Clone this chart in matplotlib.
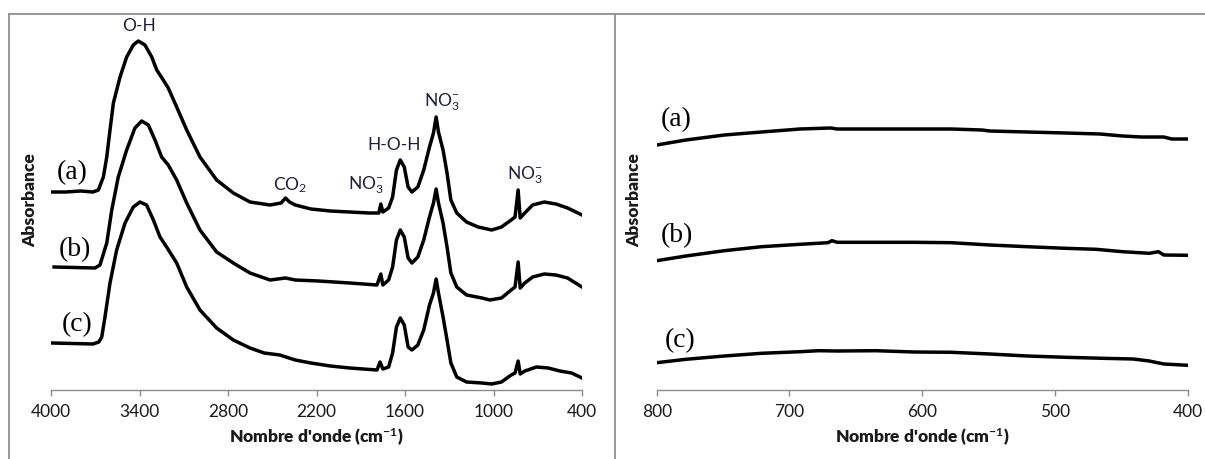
"""
FTIR spectra (a), (b), (c): full range 4000-400 and zoom 800-400 cm-1.
"""

import matplotlib
matplotlib.use("Agg")
import matplotlib.pyplot as plt
from matplotlib.lines import Line2D

# --- left panel: full spectra (wavenumber, absorbance in arbitrary units)
WN_A = [3992, 3900, 3800, 3715, 3679, 3645, 3622, 3600, 3577, 3532, 3487, 3442, 3408, 3363,
        3317, 3283, 3239, 3205, 3148, 3080, 2990, 2877, 2764, 2651, 2515, 2440, 2410,
        2383, 2344, 2238, 2106, 1975, 1843, 1777, 1764, 1750, 1711, 1684, 1658, 1632, 1605,
        1579, 1553, 1513, 1473, 1434, 1407, 1389, 1373, 1342, 1315, 1289, 1249, 1183, 1104,
        1012, 946, 880, 854, 833, 819, 788, 735, 656, 577, 498, 400]
ABS_A = [1.96, 1.96, 1.97, 1.96, 1.98, 2.11, 2.31, 2.58, 2.85, 3.11, 3.31, 3.43, 3.47, 3.43,
         3.31, 3.18, 3.08, 3.00, 2.81, 2.58, 2.31, 2.08, 1.95, 1.86, 1.83, 1.85, 1.90,
         1.86, 1.83, 1.79, 1.77, 1.76, 1.75, 1.75, 1.84, 1.76, 1.80, 1.91, 2.18, 2.28, 2.21,
         2.01, 1.96, 2.01, 2.18, 2.41, 2.55, 2.71, 2.56, 2.38, 2.15, 1.88, 1.75, 1.66, 1.61,
         1.58, 1.61, 1.68, 1.71, 1.98, 1.70, 1.75, 1.83, 1.86, 1.84, 1.80, 1.73]

WN_B = [3979, 3702, 3668, 3622, 3588, 3544, 3487, 3431, 3385, 3340, 3295, 3250, 3205, 3148,
        3080, 2990, 2877, 2764, 2651, 2515, 2410, 2344, 2186, 1975, 1790,
        1764, 1750, 1711, 1684, 1658, 1632, 1605, 1579, 1553, 1513, 1473, 1434, 1407, 1389,
        1373, 1342, 1315, 1289, 1249, 1183, 1078, 1025, 946, 880, 854, 833, 819, 788, 735,
        656, 577, 498, 400]
ABS_B = [1.21, 1.20, 1.23, 1.45, 1.78, 2.11, 2.38, 2.60, 2.67, 2.63, 2.48, 2.31, 2.23, 2.08,
         1.85, 1.58, 1.36, 1.25, 1.15, 1.08, 1.10, 1.08, 1.07, 1.05, 1.03,
         1.14, 1.03, 1.08, 1.21, 1.48, 1.58, 1.51, 1.30, 1.25, 1.31, 1.48, 1.71, 1.85, 1.99,
         1.85, 1.65, 1.41, 1.15, 1.01, 0.93, 0.90, 0.88, 0.90, 0.98, 1.01, 1.26, 1.00, 1.05,
         1.11, 1.14, 1.13, 1.10, 1.01]

WN_C = [3992, 3715, 3676, 3656, 3634, 3600, 3555, 3498, 3442, 3397, 3352, 3306, 3261, 3216,
        3148, 3080, 2990, 2877, 2764, 2651, 2555, 2449, 2344, 2238, 2106, 1975, 1790,
        1769, 1750, 1711, 1684, 1658, 1632, 1605, 1579, 1553, 1513, 1473, 1434, 1407, 1389,
        1373, 1342, 1315, 1289, 1249, 1183, 1078, 1012, 946, 880, 854, 833, 819, 788, 709,
        629, 550, 471, 400]
ABS_C = [0.45, 0.44, 0.46, 0.51, 0.71, 1.05, 1.38, 1.65, 1.81, 1.86, 1.83, 1.68, 1.51, 1.41,
         1.25, 1.01, 0.78, 0.60, 0.48, 0.40, 0.35, 0.33, 0.28, 0.25, 0.22, 0.20, 0.18,
         0.26, 0.19, 0.21, 0.35, 0.61, 0.70, 0.63, 0.41, 0.38, 0.43, 0.58, 0.83, 0.95, 1.09,
         0.95, 0.71, 0.48, 0.25, 0.11, 0.06, 0.05, 0.04, 0.06, 0.13, 0.15, 0.27, 0.14, 0.17,
         0.21, 0.20, 0.17, 0.15, 0.10]

# --- right panel: 800-400 cm-1
WN_RA = [800, 778, 749, 721, 692, 669, 664, 635, 606, 578, 555, 549, 521, 492, 466, 449,
         435, 418, 412, 400]
ABS_RA = [2.46, 2.51, 2.56, 2.59, 2.62, 2.63, 2.62, 2.62, 2.62, 2.62, 2.61, 2.60, 2.59,
          2.58, 2.57, 2.55, 2.54, 2.54, 2.52, 2.52]

WN_RB = [800, 778, 749, 721, 692, 671, 668, 664, 635, 606, 578, 549, 521, 492, 469, 449,
         429, 422, 418, 400]
ABS_RB = [1.303, 1.35, 1.403, 1.443, 1.467, 1.483, 1.503, 1.487, 1.487, 1.487, 1.483, 1.46,
          1.443, 1.427, 1.417, 1.393, 1.377, 1.393, 1.36, 1.357]

WN_RC = [800, 778, 749, 721, 692, 678, 664, 635, 606, 578, 549, 521, 492, 464, 441, 429,
         418, 400]
ABS_RC = [0.283, 0.317, 0.35, 0.377, 0.393, 0.403, 0.40, 0.403, 0.39, 0.387, 0.37, 0.35,
          0.337, 0.327, 0.32, 0.30, 0.27, 0.257]

LEFT_TICKS = [4000, 3400, 2800, 2200, 1600, 1000, 400]
RIGHT_TICKS = [800, 700, 600, 500, 400]

SAMPLE_LABELS = ["(a)", "(b)", "(c)"]
BAND_LABELS = ["O-H", "CO$_2$", "NO$_3^{-}$", "H-O-H", "NO$_3^{-}$", "NO$_3^{-}$"]
BAND_POS = [(3401, 3.62), (2380, 2.03), (1866, 2.03), (1676, 2.43), (1352, 2.86), (790, 2.13)]
LEFT_LABEL_POS = [(3858, 2.15), (3837, 1.38), (3824, 0.63)]
RIGHT_LABEL_POS = [(785, 2.715), (785, 1.55), (782, 0.50)]

plt.rcParams["font.family"] = ["Lato", "DejaVu Sans"]
plt.rcParams["mathtext.fontset"] = "custom"
plt.rcParams["mathtext.rm"] = "Lato"
plt.rcParams["mathtext.bf"] = "Lato:bold"
plt.rcParams["mathtext.it"] = "Lato:italic"

GRAY = "#8c8c8c"
TXT = "#1a1a1a"


def style_axis(ax, ticks, xlim, ylim):
    ax.set_xlim(*xlim)
    ax.set_ylim(*ylim)
    ax.set_xticks(ticks)
    ax.set_xticklabels([str(t) for t in ticks])
    ax.set_yticks([])
    for s in ("top", "right", "left"):
        ax.spines[s].set_visible(False)
    ax.spines["bottom"].set_color(GRAY)
    ax.spines["bottom"].set_linewidth(1.0)
    ax.tick_params(axis="x", direction="out", length=4, width=1, color=GRAY,
                   labelsize=12.5, labelcolor=TXT, pad=6)
    ax.set_xlabel("Nombre d'onde (cm$^{\\mathbf{-1}}$)", fontsize=12.5,
                  fontweight="heavy", color=TXT)
    ax.xaxis.set_label_coords(0.5, -0.1)
    ax.xaxis.label.set_va("top")
    ax.set_ylabel("Absorbance", fontsize=12.5, fontweight="heavy", color=TXT)
    ax.patch.set_visible(False)


fig = plt.figure(figsize=(12.05, 4.59), dpi=100)
W, H = 1205.0, 459.0

ax1 = fig.add_axes([51 / W, (H - 390) / H, 531 / W, 362 / H])
ax2 = fig.add_axes([656.7 / W, (H - 390) / H, 531 / W, 362 / H])

lw = 2.5
for wn, ab in ((WN_A, ABS_A), (WN_B, ABS_B), (WN_C, ABS_C)):
    ax1.plot(wn, ab, color="black", lw=lw, solid_joinstyle="round")
for wn, ab in ((WN_RA, ABS_RA), (WN_RB, ABS_RB), (WN_RC, ABS_RC)):
    ax2.plot(wn, ab, color="black", lw=lw, solid_joinstyle="round")

style_axis(ax1, LEFT_TICKS, (4000, 400), (-0.02, 3.60))
style_axis(ax2, RIGHT_TICKS, (800, 400), (0.01, 3.63))
ax1.yaxis.set_label_coords(-0.024, 0.525)
ax2.yaxis.set_label_coords(-0.028, 0.525)

for lab, (x, y) in zip(SAMPLE_LABELS, LEFT_LABEL_POS):
    ax1.text(x, y, lab, family="Liberation Serif", fontsize=20, ha="center", va="center")
for lab, (x, y) in zip(SAMPLE_LABELS, RIGHT_LABEL_POS):
    ax2.text(x, y, lab, family="Liberation Serif", fontsize=20, ha="center", va="center")
for lab, (x, y) in zip(BAND_LABELS, BAND_POS):
    ax1.text(x, y, lab, fontsize=12.5, color="#1e1e3c", ha="center", va="center", clip_on=False)

# picture frame lines (top, left, separator)
fc = "#8f8f8f"
fig.add_artist(Line2D([9 / W, 1.0], [1 - 13.5 / H, 1 - 13.5 / H], color=fc, lw=1.3))
fig.add_artist(Line2D([9 / W, 9 / W], [0, 1 - 13.5 / H], color=fc, lw=1.3))
fig.add_artist(Line2D([614.5 / W, 614.5 / W], [0, 1 - 13.5 / H], color=fc, lw=1.3))

fig.savefig("out.png", dpi=100, facecolor="white")
